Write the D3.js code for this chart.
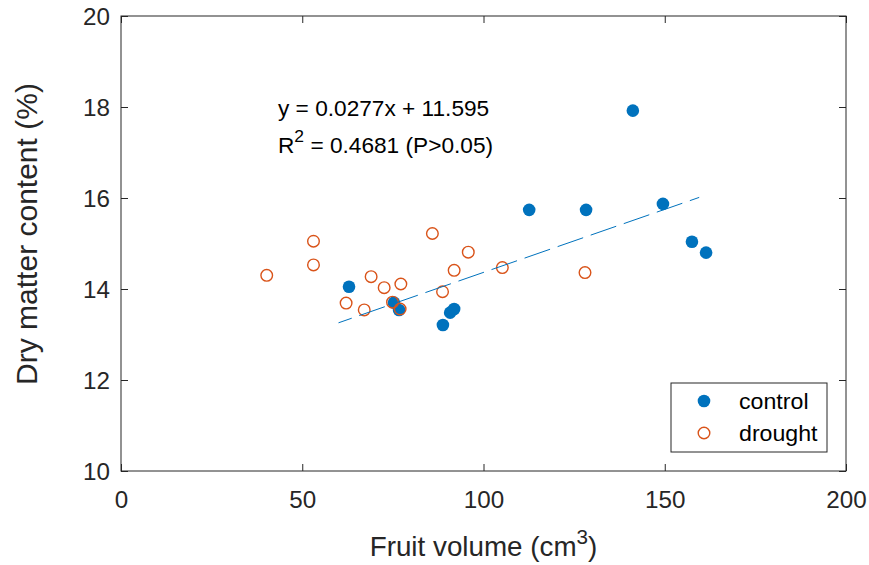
<!DOCTYPE html>
<html>
<head>
<meta charset="utf-8">
<script src="https://cdn.jsdelivr.net/npm/d3@7"></script>
<style>
  html, body { margin: 0; padding: 0; background: #fff; }
  svg { display: block; font-family: "Liberation Sans", Arial, Helvetica, sans-serif; }
</style>
</head>
<body>
<svg id="chart" width="869" height="565"></svg>
<script>
// Fruit volume (cm3) and dry matter content (%) per fruit
const controlVolume = [62.9, 75.3, 76.7, 88.8, 90.8, 91.9, 112.6, 128.3, 141.2, 149.5, 157.5, 161.4];
const controlDryMatter = [14.05, 13.70, 13.54, 13.21, 13.48, 13.56, 15.74, 15.74, 17.92, 15.87, 15.04, 14.80];

const droughtVolume = [40.2, 53.1, 53.1, 62.1, 67.1, 69.0, 72.6, 74.9, 77.0, 77.2, 85.9, 88.7, 91.9, 95.8, 105.2, 128.0];
const droughtDryMatter = [14.30, 15.05, 14.53, 13.69, 13.54, 14.27, 14.03, 13.71, 13.56, 14.11, 15.22, 13.94, 14.41, 14.81, 14.47, 14.36];

// Linear fit shown on the plot
const fitSlope = 0.0277;
const fitIntercept = 11.595;
const fitRange = [60, 159.5];

const xTicks = [0, 50, 100, 150, 200];
const yTicks = [10, 12, 14, 16, 18, 20];
const seriesNames = ["control", "drought"];

const COL_CONTROL = "#0072BD";
const COL_DROUGHT = "#D95319";
const AXIS_COL = "#262626";
const SX = 1.03; // slight horizontal text stretch

const svg = d3.select("#chart");
const plotL = 121, plotR = 846, plotT = 16, plotB = 471;

const x = d3.scaleLinear().domain([0, 200]).range([plotL, plotR]);
const y = d3.scaleLinear().domain([10, 20]).range([plotB, plotT]);

// Axes with inward ticks on all four sides
const tick = 7;
const gx = svg.append("g").attr("transform", `translate(0,${plotB})`)
  .call(d3.axisBottom(x).tickValues(xTicks).tickSizeInner(-tick).tickSizeOuter(0).tickPadding(0));
const gxTop = svg.append("g").attr("transform", `translate(0,${plotT})`)
  .call(d3.axisTop(x).tickValues(xTicks).tickSizeInner(-tick).tickSizeOuter(0).tickFormat(""));
const gy = svg.append("g").attr("transform", `translate(${plotL},0)`)
  .call(d3.axisLeft(y).tickValues(yTicks).tickSizeInner(-tick).tickSizeOuter(0).tickPadding(0));
const gyRight = svg.append("g").attr("transform", `translate(${plotR},0)`)
  .call(d3.axisRight(y).tickValues(yTicks).tickSizeInner(-tick).tickSizeOuter(0).tickFormat(""));

[gx, gxTop, gy, gyRight].forEach(g => {
  g.select(".domain").remove();
  g.selectAll(".tick line").attr("stroke", AXIS_COL).attr("stroke-width", 1);
});

gx.selectAll(".tick text")
  .attr("fill", AXIS_COL).attr("font-size", 23.5).attr("font-family", null)
  .attr("y", null).attr("dy", null)
  .attr("transform", `translate(0,37) scale(${SX},1)`);

gy.selectAll(".tick text")
  .attr("fill", AXIS_COL).attr("font-size", 23.5).attr("font-family", null)
  .attr("x", null).attr("dy", null)
  .attr("text-anchor", "end")
  .attr("transform", `translate(-11,8.5) scale(${SX},1)`);

// Frame
svg.append("rect")
  .attr("x", plotL).attr("y", plotT)
  .attr("width", plotR - plotL).attr("height", plotB - plotT)
  .attr("fill", "none").attr("stroke", AXIS_COL).attr("stroke-width", 1);

// Markers
svg.append("g").selectAll("circle")
  .data(d3.zip(controlVolume, controlDryMatter))
  .join("circle")
  .attr("cx", d => x(d[0])).attr("cy", d => y(d[1]))
  .attr("r", 6.3).attr("fill", COL_CONTROL);

svg.append("g").selectAll("circle")
  .data(d3.zip(droughtVolume, droughtDryMatter))
  .join("circle")
  .attr("cx", d => x(d[0])).attr("cy", d => y(d[1]))
  .attr("r", 5.8).attr("fill", "none")
  .attr("stroke", COL_DROUGHT).attr("stroke-width", 1.4);

// Fitted line
svg.append("line")
  .attr("x1", x(fitRange[0])).attr("y1", y(fitIntercept + fitSlope * fitRange[0]))
  .attr("x2", x(fitRange[1])).attr("y2", y(fitIntercept + fitSlope * fitRange[1]))
  .attr("stroke", COL_CONTROL).attr("stroke-width", 1)
  .attr("stroke-dasharray", "27 8").attr("stroke-dashoffset", 13);

// Equation text
function stretched(px, py, size) {
  return svg.append("text")
    .attr("transform", `translate(${px},${py}) scale(${SX},1)`)
    .attr("font-size", size).attr("fill", "#000");
}
stretched(278, 116, 22).text(`y = ${fitSlope}x + ${fitIntercept}`);
const r2 = stretched(278, 153, 22);
r2.append("tspan").text("R");
r2.append("tspan").attr("font-size", 17).attr("dy", -11).text("2");
r2.append("tspan").attr("dy", 11).text(" = 0.4681 (P>0.05)");

// Axis titles
const xt = svg.append("text")
  .attr("transform", `translate(${(plotL + plotR) / 2},556) scale(${SX},1)`)
  .attr("text-anchor", "middle").attr("font-size", 27).attr("fill", AXIS_COL);
xt.append("tspan").text("Fruit volume (cm");
xt.append("tspan").attr("font-size", 20).attr("dy", -12).text("3");
xt.append("tspan").attr("dy", 12).text(")");

svg.append("text")
  .attr("transform", `translate(37,234) rotate(-90)`)
  .attr("text-anchor", "middle").attr("font-size", 30).attr("fill", AXIS_COL)
  .text("Dry matter content (%)");

// Legend
const lg = svg.append("g");
lg.append("rect").attr("x", 671).attr("y", 383).attr("width", 156).attr("height", 69)
  .attr("fill", "#fff").attr("stroke", AXIS_COL).attr("stroke-width", 1);
lg.append("circle").attr("cx", 704).attr("cy", 401).attr("r", 6.3).attr("fill", COL_CONTROL);
lg.append("circle").attr("cx", 704).attr("cy", 433).attr("r", 5.8)
  .attr("fill", "none").attr("stroke", COL_DROUGHT).attr("stroke-width", 1.4);
lg.append("text").attr("transform", `translate(739,409) scale(${SX},1)`)
  .attr("font-size", 22.5).attr("fill", "#000").text(seriesNames[0]);
lg.append("text").attr("transform", `translate(739,441) scale(${SX},1)`)
  .attr("font-size", 22.5).attr("fill", "#000").text(seriesNames[1]);
</script>
</body>
</html>
